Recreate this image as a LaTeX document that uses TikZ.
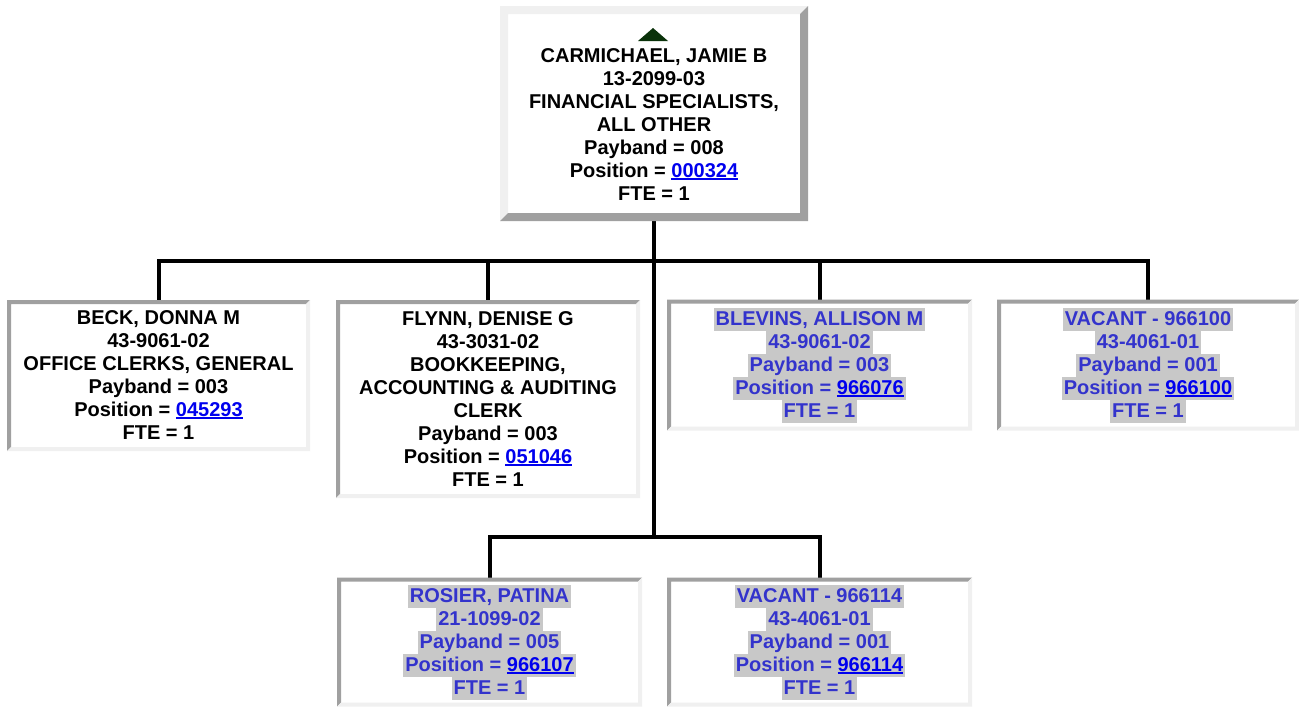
\documentclass[tikz,border=0pt]{standalone}
\usepackage{fontspec}
\setmainfont{Liberation Sans}
\usetikzlibrary{calc}
\definecolor{hlgray}{RGB}{200,200,200}
\definecolor{hlblue}{RGB}{51,51,204}
\definecolor{linkblue}{RGB}{0,0,238}
\definecolor{darkedge}{RGB}{160,160,160}
\definecolor{lightedge}{RGB}{240,240,240}
\definecolor{markgreen}{RGB}{10,50,10}
\newcommand{\mystrut}{\rule[-3.75pt]{0pt}{17.25pt}}
\newcommand{\hlline}[1]{{\setlength{\fboxsep}{0pt}\colorbox{hlgray}{\kern1.5pt\mystrut#1\kern1.5pt}}}
\newcommand{\plline}[1]{\mystrut#1}
\newsavebox{\lnkbox}
\newcommand{\lnk}[1]{{\color{linkblue}\sbox{\lnkbox}{#1}\rlap{\rule[-1.9pt]{\wd\lnkbox}{1.2pt}}\usebox{\lnkbox}}}
\begin{document}
\begin{tikzpicture}[x=0.75pt,y=-0.75pt,
  boxtext/.style={align=center,inner sep=0pt,outer sep=0pt,
    font=\fontsize{15}{17.25}\selectfont\bfseries},
  plainbox/.style={boxtext,text=black},
  hlbox/.style={boxtext,text=hlblue},
  conn/.style={line width=3pt,black}]
\useasboundingbox[fill=white] (0,0) rectangle (1299,707);
% box nodes (sizes in px)
\node[plainbox,minimum width=0.75pt*308,minimum height=0.75pt*215] (top) at (654,113.5)
  {\plline{}\\\plline{CARMICHAEL, JAMIE B}\\\plline{13-2099-03}\\\plline{FINANCIAL SPECIALISTS,}\\\plline{ALL OTHER}\\\plline{Payband = 008}\\\plline{Position = \lnk{000324}}\\\plline{FTE = 1}};
\node[plainbox,minimum width=0.75pt*303,minimum height=0.75pt*151] (beck) at (158.5,375.5)
  {\plline{BECK, DONNA M}\\\plline{43-9061-02}\\\plline{OFFICE CLERKS, GENERAL}\\\plline{Payband = 003}\\\plline{Position = \lnk{045293}}\\\plline{FTE = 1}};
\node[plainbox,minimum width=0.75pt*304,minimum height=0.75pt*198] (flynn) at (488,399)
  {\plline{FLYNN, DENISE G}\\\plline{43-3031-02}\\\plline{BOOKKEEPING,}\\\plline{ACCOUNTING \& AUDITING}\\\plline{CLERK}\\\plline{Payband = 003}\\\plline{Position = \lnk{051046}}\\\plline{FTE = 1}};
\node[hlbox,minimum width=0.75pt*305,minimum height=0.75pt*131] (blevins) at (819.5,365)
  {\hlline{BLEVINS, ALLISON M}\\\hlline{43-9061-02}\\\hlline{Payband = 003}\\\hlline{Position = \lnk{966076}}\\\hlline{FTE = 1}};
\node[hlbox,minimum width=0.75pt*302,minimum height=0.75pt*131] (vaca) at (1148,365)
  {\hlline{VACANT - 966100}\\\hlline{43-4061-01}\\\hlline{Payband = 001}\\\hlline{Position = \lnk{966100}}\\\hlline{FTE = 1}};
\node[hlbox,minimum width=0.75pt*305,minimum height=0.75pt*129] (rosier) at (489.5,642)
  {\hlline{ROSIER, PATINA}\\\hlline{21-1099-02}\\\hlline{Payband = 005}\\\hlline{Position = \lnk{966107}}\\\hlline{FTE = 1}};
\node[hlbox,minimum width=0.75pt*305,minimum height=0.75pt*129] (vacb) at (819.5,642)
  {\hlline{VACANT - 966114}\\\hlline{43-4061-01}\\\hlline{Payband = 001}\\\hlline{Position = \lnk{966114}}\\\hlline{FTE = 1}};
% connectors
\coordinate (j1) at (654,261);
\coordinate (j2) at (654,537);
\draw[conn] (top.south) -- (j2);
\draw[conn] (beck.north) -- (beck.north |- j1) -- (vaca.north |- j1) -- (vaca.north);
\draw[conn] (flynn.north) -- (flynn.north |- j1);
\draw[conn] (blevins.north) -- (blevins.north |- j1);
\draw[conn] (rosier.north) -- (rosier.north |- j2) -- (vacb.north |- j2) -- (vacb.north);
% outset frame of the top box
\fill[lightedge] (top.south west) -- (top.north west) -- (top.north east)
  -- ($(top.north east)+(-8,8)$) -- ($(top.north west)+(8,8)$) -- ($(top.south west)+(8,-8)$) -- cycle;
\fill[darkedge] (top.north east) -- (top.south east) -- (top.south west)
  -- ($(top.south west)+(8,-8)$) -- ($(top.south east)+(-8,-8)$) -- ($(top.north east)+(-8,8)$) -- cycle;
% inset frames of the other boxes
\foreach \b in {beck,flynn,blevins,vaca,rosier,vacb}{
  \fill[darkedge] (\b.south west) -- (\b.north west) -- (\b.north east)
    -- ($(\b.north east)+(-4,4)$) -- ($(\b.north west)+(4,4)$) -- ($(\b.south west)+(4,-4)$) -- cycle;
  \fill[lightedge] (\b.north east) -- (\b.south east) -- (\b.south west)
    -- ($(\b.south west)+(4,-4)$) -- ($(\b.south east)+(-4,-4)$) -- ($(\b.north east)+(-4,4)$) -- cycle;
}
% expand marker
\fill[markgreen] ($(top.north)+(-1,22)$) -- ($(top.north)+(14,35)$) -- ($(top.north)+(-16,35)$) -- cycle;
\end{tikzpicture}
\end{document}
